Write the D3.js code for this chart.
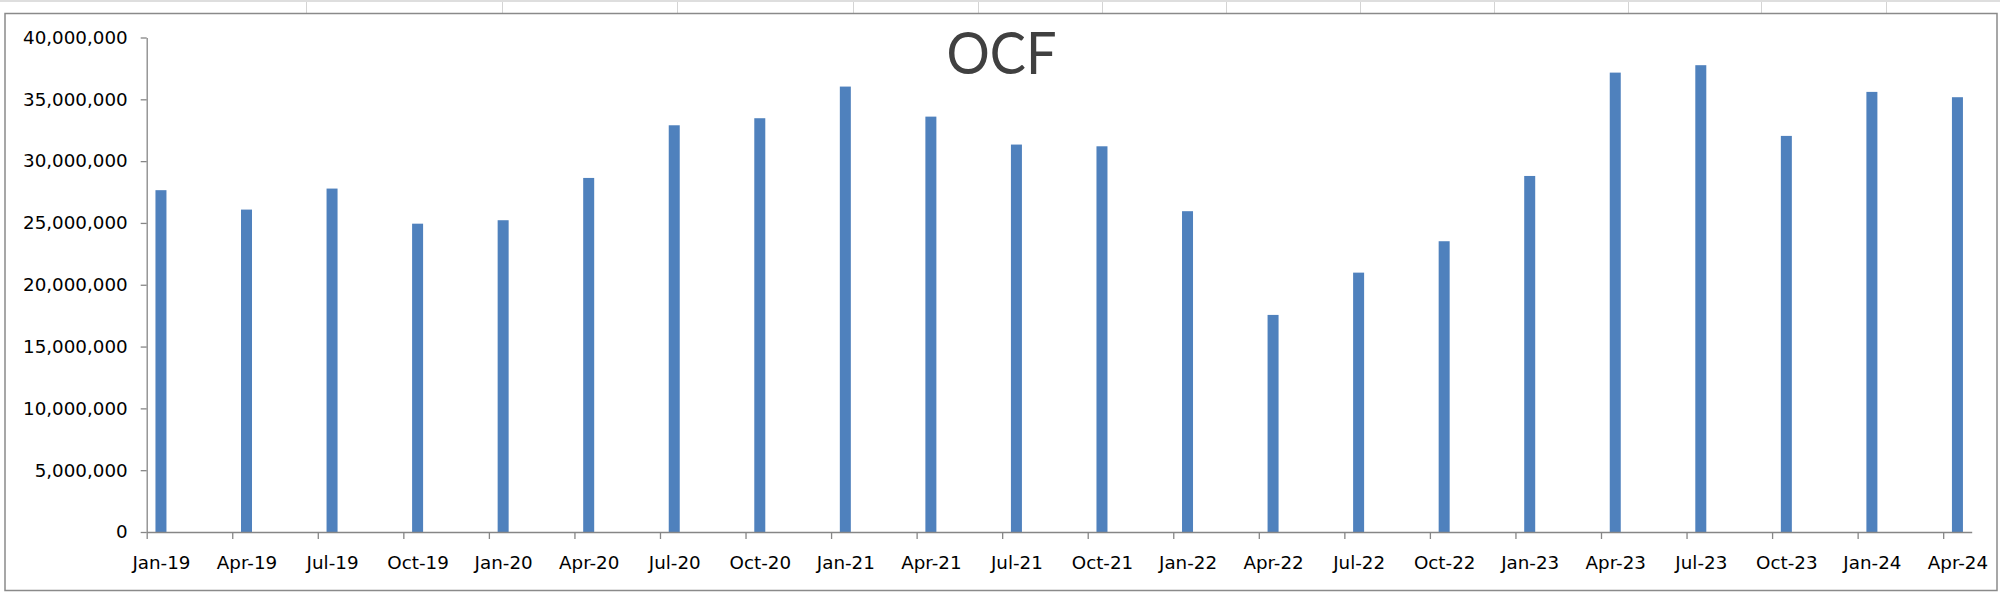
<!DOCTYPE html>
<html>
<head>
<meta charset="utf-8">
<script src="https://d3js.org/d3.v7.min.js"></script>
<style>
  html, body { margin: 0; padding: 0; background: #fff; }
  svg { display: block; }
  .tick text { font-family: "DejaVu Sans", Verdana, sans-serif; font-size: 18.3px; fill: #000; }
</style>
</head>
<body>
<svg id="chart" width="2000" height="592"></svg>
<script>
// ---- Data ----
const categories = ["Jan-19","Apr-19","Jul-19","Oct-19","Jan-20","Apr-20","Jul-20","Oct-20",
  "Jan-21","Apr-21","Jul-21","Oct-21","Jan-22","Apr-22","Jul-22","Oct-22",
  "Jan-23","Apr-23","Jul-23","Oct-23","Jan-24","Apr-24"];
const ocfValues = [27650000, 26080000, 27780000, 24940000, 25220000, 28640000, 32900000, 33470000,
  36030000, 33600000, 31340000, 31200000, 25950000, 17560000, 20980000, 23520000,
  28800000, 37160000, 37760000, 32040000, 35600000, 35170000];
const yTickValues = [0, 5000000, 10000000, 15000000, 20000000, 25000000, 30000000, 35000000, 40000000];
const xTickLabels = categories;
const chartTitle = "OCF";

// ---- Layout ----
const W = 2000, H = 592;
const plotLeft = 146.7, plotRight = 1971.7, plotTop = 37.5, plotBottom = 532;
const monthNames = ["Jan","Feb","Mar","Apr","May","Jun","Jul","Aug","Sep","Oct","Nov","Dec"];
const monthIndex = lbl => {
  const [m, yy] = lbl.split("-");
  return monthNames.indexOf(m) + (parseInt(yy, 10) - 19) * 12;
};
const totalMonths = monthIndex("Apr-24") + 1; // 64 monthly slots

const svg = d3.select("#chart");

// spreadsheet backdrop (cell grid visible above the chart)
const sheetCols = [305.5, 502, 676.7, 852.7, 977.7, 1102, 1226.4, 1360.3, 1493.6, 1628.2, 1760.8, 1885.8];
svg.append("rect").attr("x", 0).attr("y", 0).attr("width", W).attr("height", 2).attr("fill", "#dedede");
svg.selectAll("line.sheet").data(sheetCols).join("line")
  .attr("class", "sheet")
  .attr("x1", d => Math.round(d) + 0.5).attr("x2", d => Math.round(d) + 0.5)
  .attr("y1", 2).attr("y2", 14)
  .attr("stroke", "#d4d4d4").attr("stroke-width", 1);

// chart area border
svg.append("rect")
  .attr("x", 5).attr("y", 13.5).attr("width", 1992).attr("height", 577)
  .attr("fill", "#fff").attr("stroke", "#8a8a8a").attr("stroke-width", 1.5);

// ---- Scales ----
const x = d3.scaleLinear().domain([0, totalMonths]).range([plotLeft, plotRight]);
const monthW = x(1) - x(0);
const y = d3.scaleLinear().domain([0, 40000000]).range([plotBottom, plotTop]);

// ---- Bars ----
const barW = 11;
svg.append("g").selectAll("rect").data(categories).join("rect")
  .attr("x", (d) => x(monthIndex(d) + 0.5) - barW / 2)
  .attr("y", (d, i) => y(ocfValues[i]))
  .attr("width", barW)
  .attr("height", (d, i) => y(0) - y(ocfValues[i]))
  .attr("fill", "#4f81bd");

// ---- Axes ----
const yAxis = d3.axisLeft(y).tickValues(yTickValues).tickFormat(d3.format(","))
  .tickSize(6).tickSizeOuter(0).tickPadding(13);
const gy = svg.append("g").attr("transform", `translate(${plotLeft},0)`).call(yAxis);

const xAxis = d3.axisBottom(x)
  .tickValues(xTickLabels.map(monthIndex))
  .tickFormat((d, i) => xTickLabels[i])
  .tickSize(7).tickSizeOuter(0);
const gx = svg.append("g").attr("transform", `translate(0,${plotBottom})`).call(xAxis);
gx.selectAll(".tick text").attr("x", monthW / 2).attr("y", 37).attr("dy", 0);

[gx, gy].forEach(g => {
  g.select(".domain").attr("stroke", "#868686").attr("stroke-width", 1.3);
  g.selectAll(".tick line").attr("stroke", "#868686").attr("stroke-width", 1.3);
});

// ---- Title ----
svg.append("text")
  .attr("x", 1001.5).attr("y", 74)
  .attr("text-anchor", "middle")
  .attr("font-family", "Lato, 'Open Sans', sans-serif")
  .attr("font-size", 59)
  .attr("textLength", 110)
  .attr("lengthAdjust", "spacingAndGlyphs")
  .attr("fill", "#404040")
  .text(chartTitle);
</script>
</body>
</html>
